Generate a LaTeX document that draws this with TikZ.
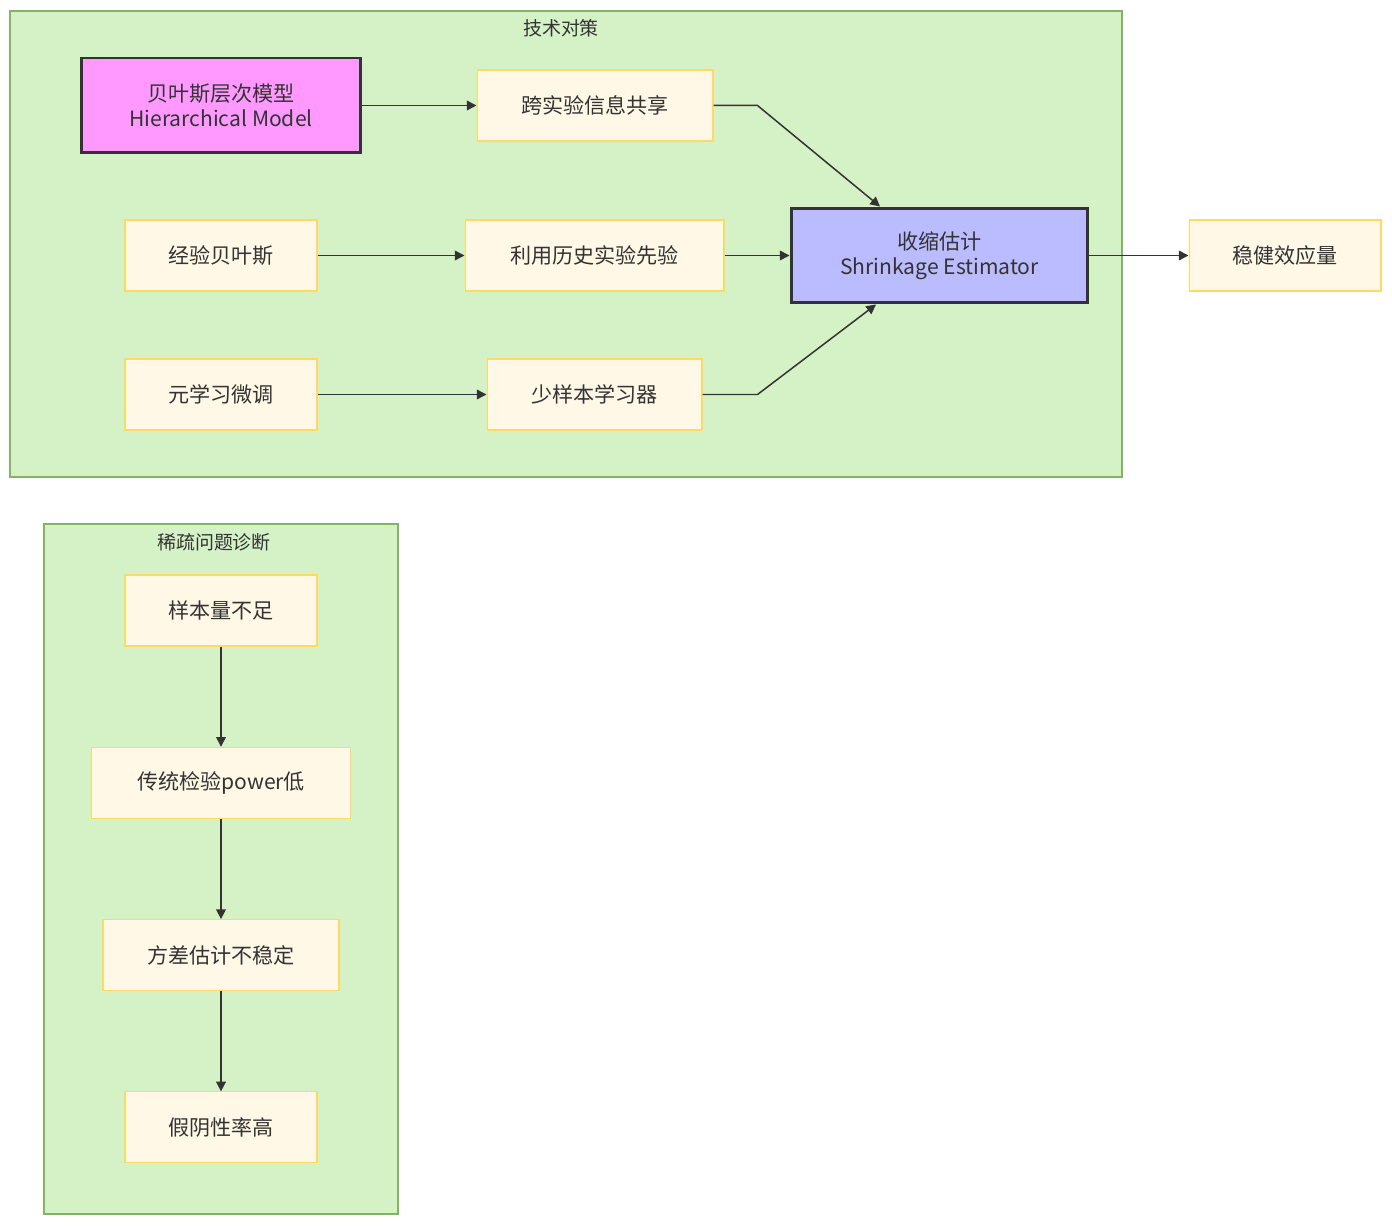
\documentclass[tikz,border=0pt]{standalone}
\usepackage{fontspec}
\setmainfont{Noto Sans CJK SC}
\usetikzlibrary{arrows.meta, positioning}

\definecolor{boxfill}{HTML}{FFF8E6}
\definecolor{boxline}{HTML}{FFD966}
\definecolor{grpfill}{HTML}{D4F2C6}
\definecolor{grpline}{HTML}{82B366}
\definecolor{inkgray}{HTML}{333333}
\definecolor{pinkfill}{HTML}{FF99FF}
\definecolor{bluefill}{HTML}{BBBBFF}

\begin{document}
\begin{tikzpicture}[x=0.02cm,y=-0.02cm,
		box/.style={draw=boxline,fill=boxfill,line width=0.6pt,text=inkgray,align=center,
			inner sep=0pt,minimum height=1.42cm,font=\fontsize{12}{14}\selectfont},
		keybox/.style={box,draw=inkgray,line width=1.7pt,minimum height=1.9cm},
		group/.style={draw=grpline,fill=grpfill,line width=0.6pt},
		grouptitle/.style={text=inkgray,inner sep=0pt,font=\fontsize{10.8}{12}\selectfont},
		edge/.style={draw=inkgray,line width=0.85pt,-{Triangle[length=5.5pt,width=5.5pt]}}]
		
		% Canvas
		\useasboundingbox (0,0) rectangle (1392,1226);
		
		% Clusters
		\draw[group] (10,11) rectangle (1122,477);
		\node[grouptitle] (tTech) at (561,28) {技术对策};
		\draw[group] (44,524) rectangle (398,1214);
		\node[grouptitle] (tDiag) at (214,542) {稀疏问题诊断};
		
		% Countermeasure nodes
		\node[keybox,fill=pinkfill,minimum width=5.6cm] (hier) at (221,105.5) {贝叶斯层次模型\\Hierarchical Model};
		\node[box,minimum width=4.72cm] (share) at (595,105.5) {跨实验信息共享};
		\node[box,minimum width=3.84cm] (eb) at (221,255.5) {经验贝叶斯};
		\node[box,minimum width=5.18cm] (prior) at (594.5,255.5) {利用历史实验先验};
		\node[box,minimum width=3.84cm] (meta) at (221,394.5) {元学习微调};
		\node[box,minimum width=4.3cm] (few) at (594.5,394.5) {少样本学习器};
		\node[keybox,fill=bluefill,minimum width=5.94cm] (shrink) at (939.5,255.5) {收缩估计\\Shrinkage Estimator};
		\node[box,minimum width=3.84cm] (robust) at (1285,255.5) {稳健效应量};
		
		% Diagnosis chain
		\foreach \n/\w/\t [count=\k] in {s1/3.84/样本量不足, s2/5.18/传统检验power低, s3/4.72/方差估计不稳定, s4/3.84/假阴性率高} {
			\node[box,minimum width=\w cm] (\n) at (221,{610.5+(\k-1)*172.3}) {\t};
		}
		\foreach \a/\b in {s1/s2, s2/s3, s3/s4}
		\draw[edge] (\a) -- (\b);
		
		% Edges
		\draw[edge] (hier) -- (share);
		\draw[edge] (eb) -- (prior);
		\draw[edge] (meta) -- (few);
		\draw[edge] (prior) -- (shrink);
		\draw[edge] (shrink) -- (robust);
		\draw[edge] (share.east) -- ++(44,0) -- ([xshift=-1.19cm]shrink.north);
		\draw[edge] (few.east) -- ++(55,0) -- ([xshift=-1.27cm]shrink.south);
		
	\end{tikzpicture}
\end{document}
